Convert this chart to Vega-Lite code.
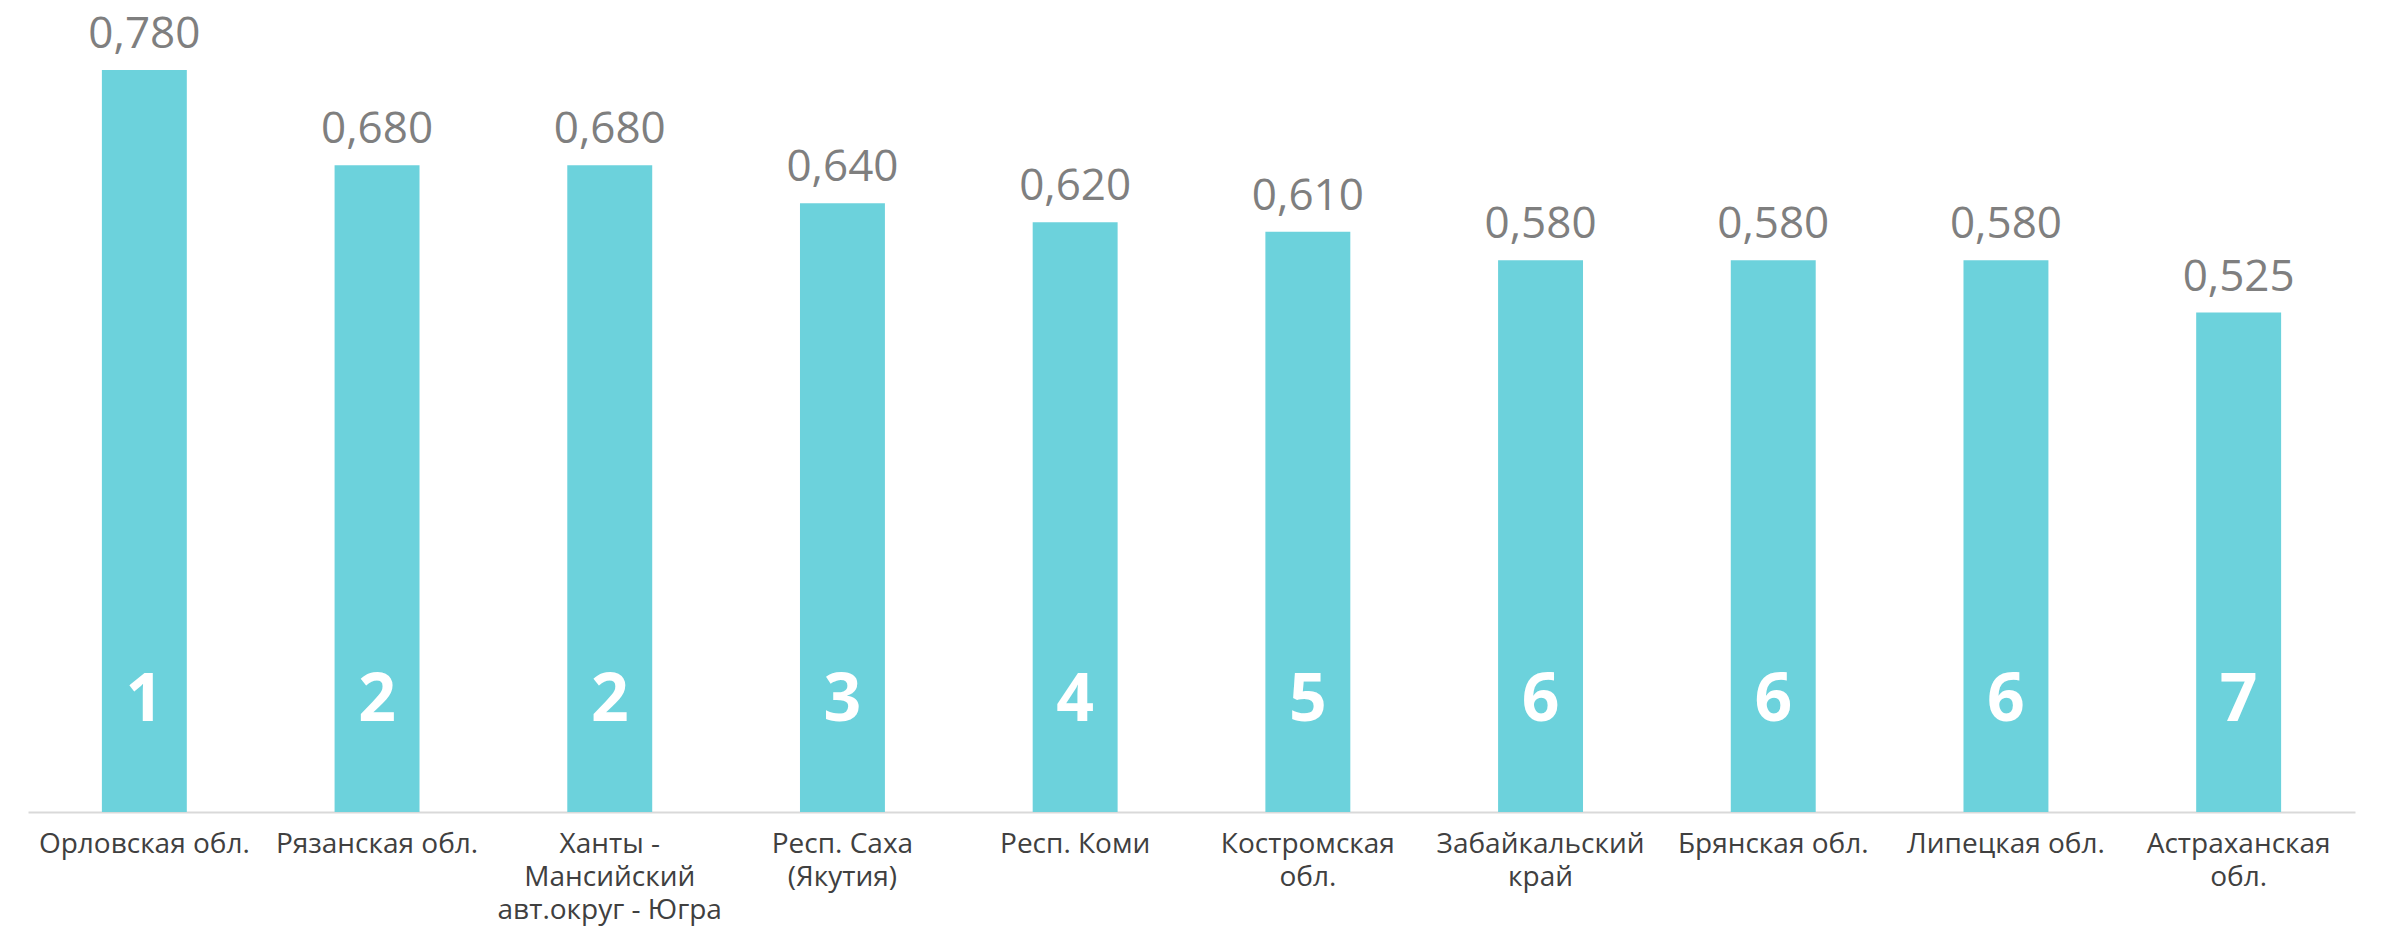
{
  "$schema": "https://vega.github.io/schema/vega-lite/v6.json",
  "width": 2327,
  "height": 812,
  "autosize": {"type": "none"},
  "padding": {"left": 28, "top": 0, "right": 26, "bottom": 114},
  "background": "white",
  "config": {
    "view": {"stroke": null},
    "font": "Open Sans",
    "locale": {"number": {"decimal": ",", "thousands": " ", "grouping": [3], "currency": ["", ""]}}
  },
  "data": {
    "values": [
      {"region": "Орловская обл.", "value": 0.78, "rank": 1},
      {"region": "Рязанская обл.", "value": 0.68, "rank": 2},
      {"region": "Ханты - Мансийский авт.округ - Югра", "value": 0.68, "rank": 2},
      {"region": "Респ. Саха (Якутия)", "value": 0.64, "rank": 3},
      {"region": "Респ. Коми", "value": 0.62, "rank": 4},
      {"region": "Костромская обл.", "value": 0.61, "rank": 5},
      {"region": "Забайкальский край", "value": 0.58, "rank": 6},
      {"region": "Брянская обл.", "value": 0.58, "rank": 6},
      {"region": "Липецкая обл.", "value": 0.58, "rank": 6},
      {"region": "Астраханская обл.", "value": 0.525, "rank": 7}
    ]
  },
  "encoding": {
    "x": {
      "field": "region",
      "type": "nominal",
      "sort": null,
      "scale": {"paddingInner": 0.635, "paddingOuter": 0.3175},
      "axis": {
        "title": null,
        "labelAngle": 0,
        "labelFontSize": 28,
        "labelColor": "#404040",
        "labelFont": "Open Sans",
        "labelPadding": 18,
        "labelLineHeight": 33,
        "labelLimit": 0,
        "ticks": false,
        "domainColor": "#d9d9d9",
        "domainWidth": 2,
        "labelExpr": "datum.value == 'Ханты - Мансийский авт.округ - Югра' ? ['Ханты -', 'Мансийский', 'авт.округ - Югра'] : datum.value == 'Респ. Саха (Якутия)' ? ['Респ. Саха', '(Якутия)'] : datum.value == 'Костромская обл.' ? ['Костромская', 'обл.'] : datum.value == 'Забайкальский край' ? ['Забайкальский', 'край'] : datum.value == 'Астраханская обл.' ? ['Астраханская', 'обл.'] : datum.value"
      }
    }
  },
  "layer": [
    {
      "mark": {"type": "bar", "color": "#6cd2dc"},
      "encoding": {
        "y": {"field": "value", "type": "quantitative", "scale": {"domain": [0, 0.8536], "nice": false}, "axis": null}
      }
    },
    {
      "mark": {"type": "text", "fontSize": 44, "color": "#7f7f7f", "baseline": "alphabetic", "dy": -22, "font": "Open Sans"},
      "encoding": {
        "y": {"field": "value", "type": "quantitative"},
        "text": {"field": "value", "type": "quantitative", "format": ".3f"}
      }
    },
    {
      "mark": {"type": "text", "fontSize": 66, "color": "white", "baseline": "middle", "font": "Open Sans", "fontWeight": "bold"},
      "encoding": {
        "y": {"datum": 0.117, "type": "quantitative"},
        "text": {"field": "rank", "type": "quantitative"}
      }
    }
  ]
}
